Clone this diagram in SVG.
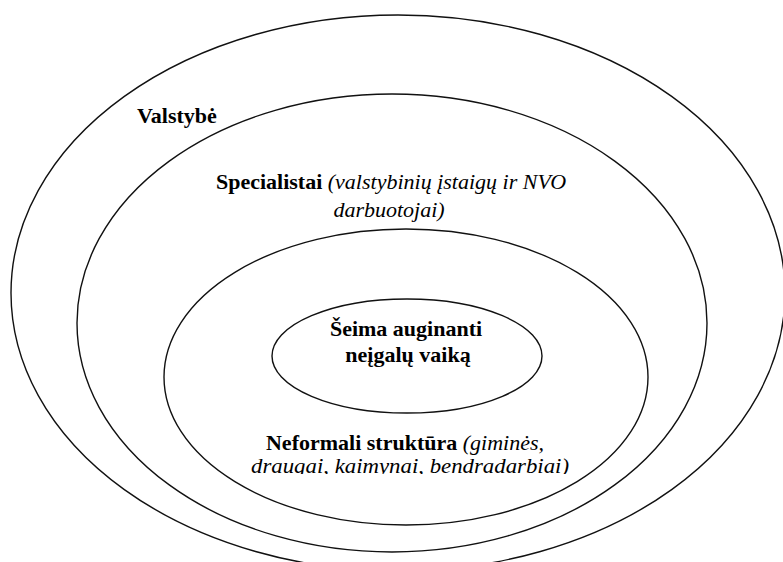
<svg xmlns="http://www.w3.org/2000/svg" width="783" height="562" viewBox="0 0 783 562">
<style>
.ring{fill:none;stroke:#111;stroke-width:1.4}
.b{font-weight:bold}
.i{font-style:italic}
</style>
<defs>
<clipPath id="cut"><rect x="0" y="0" width="783" height="474"/></clipPath>
</defs>
<rect width="783" height="562" fill="#fff"/>
<g font-family="Liberation Serif, Times New Roman, serif" font-size="22" fill="#000">
<g id="valstybe">
<ellipse class="ring" cx="398" cy="293" rx="387" ry="278"/>
<text class="b" x="137" y="123">Valstybė</text>
</g>
<g id="specialistai">
<ellipse class="ring" cx="392" cy="323" rx="315" ry="229"/>
<text x="391" y="189" text-anchor="middle"><tspan class="b">Specialistai</tspan> <tspan class="i">(valstybinių įstaigų ir NVO</tspan></text>
<text class="i" x="389" y="217" text-anchor="middle">darbuotojai)</text>
</g>
<g id="neformali">
<ellipse class="ring" cx="406" cy="377" rx="242" ry="148"/>
<text x="405" y="450" text-anchor="middle"><tspan class="b">Neformali struktūra</tspan> <tspan class="i">(giminės,</tspan></text>
<text class="i" x="251" y="473" textLength="318" lengthAdjust="spacingAndGlyphs" clip-path="url(#cut)">draugai, kaimynai, bendradarbiai)</text>
</g>
<g id="seima">
<ellipse class="ring" cx="407" cy="356" rx="135" ry="57"/>
<text class="b" x="406" y="336" text-anchor="middle">Šeima auginanti</text>
<text class="b" x="408" y="362" text-anchor="middle">neįgalų vaiką</text>
</g>
</g>
<g id="connectors"></g>
</svg>
